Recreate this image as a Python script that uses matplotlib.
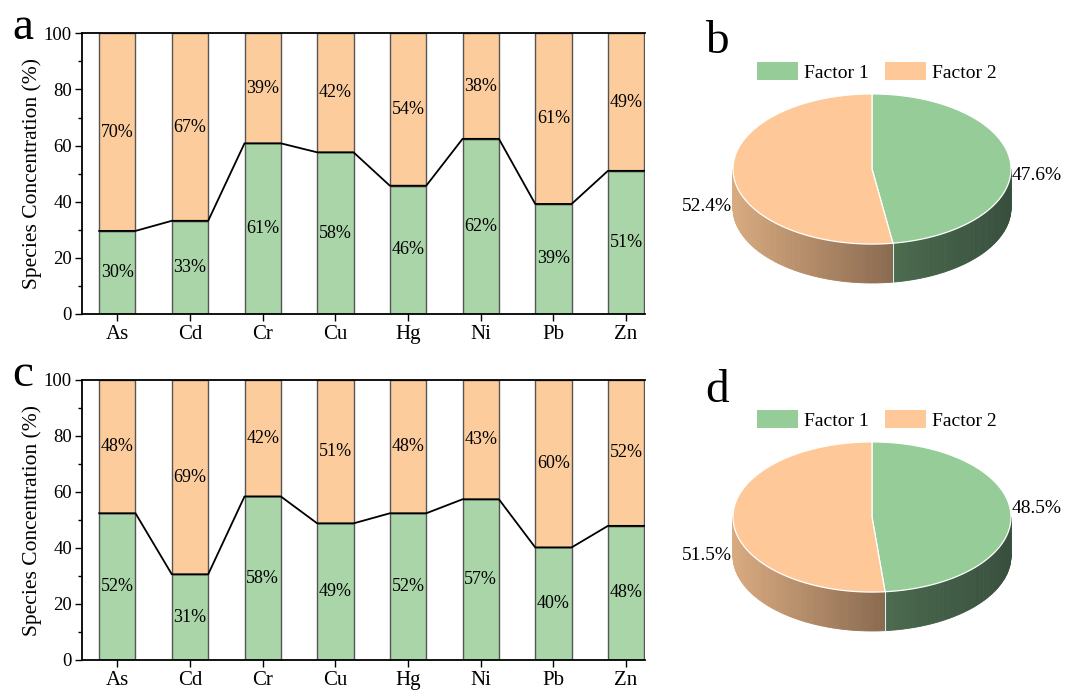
import numpy as np
import matplotlib

matplotlib.use("Agg")
import matplotlib.pyplot as plt
from matplotlib.patches import Patch, Polygon
from matplotlib.ticker import MultipleLocator

plt.rcParams["font.family"] = "serif"
plt.rcParams["font.serif"] = ["Liberation Serif", "DejaVu Serif"]

# ── data ──
elements = ["As", "Cd", "Cr", "Cu", "Hg", "Ni", "Pb", "Zn"]
factor1_a = np.array([29.6, 33.2, 60.8, 57.6, 45.7, 62.4, 39.2, 51.0])
factor1_c = np.array([52.4, 30.6, 58.4, 48.8, 52.4, 57.4, 40.2, 47.9])
pie_b = [47.6, 52.4]   # Factor 1, Factor 2
pie_d = [48.5, 51.5]
legend_labels = ["Factor 1", "Factor 2"]

BAR_GREEN = "#a9d5a9"
BAR_ORANGE = "#fdcc9d"
PIE_GREEN = "#95cc98"
PIE_ORANGE = "#fec898"
EDGE = "#555555"

W, H = 1065, 690
fig = plt.figure(figsize=(W / 100, H / 100), dpi=100)


def px_box(x0, y0, x1, y1):
    """pixel box (top-left origin) → figure fraction [l, b, w, h]"""
    return [x0 / W, 1 - y1 / H, (x1 - x0) / W, (y1 - y0) / H]


def draw_bars(ax, f1):
    x = np.arange(len(elements))
    f2 = 100 - f1
    ax.bar(x, f1, width=0.5, color=BAR_GREEN, edgecolor=EDGE, linewidth=1, zorder=2)
    ax.bar(x, f2, bottom=f1, width=0.5, color=BAR_ORANGE, edgecolor=EDGE,
           linewidth=1, zorder=2)
    # 막대 위 경계선 연결
    lx = np.column_stack([x - 0.25, x + 0.25]).ravel()
    ly = np.repeat(f1, 2)
    ax.plot(lx, ly, color="black", linewidth=1.3, zorder=3)
    for xi, a, b in zip(x, f1, f2):
        ax.text(xi, a / 2, f"{a:.0f}%", ha="center", va="center", fontsize=13, zorder=4)
        ax.text(xi, a + b / 2, f"{b:.0f}%", ha="center", va="center", fontsize=13, zorder=4)
    ax.set_xlim(-0.49, 7.26)
    ax.set_ylim(0, 100)
    ax.set_xticks(x)
    ax.set_xticklabels(elements, fontsize=15)
    ax.yaxis.set_major_locator(MultipleLocator(20))
    ax.yaxis.set_minor_locator(MultipleLocator(10))
    ax.tick_params(axis="y", labelsize=13.5, direction="out", length=5, width=1, pad=2)
    ax.tick_params(axis="y", which="minor", direction="out", length=3, width=1)
    ax.tick_params(axis="x", direction="out", length=5, width=1, pad=3)
    ax.set_ylabel("Species Concentration (%)", fontsize=15.5, labelpad=1)
    ax.spines["right"].set_visible(False)
    for s in ("left", "bottom", "top"):
        ax.spines[s].set_linewidth(1.3)


def lerp(c0, c1, t):
    c0 = np.array(matplotlib.colors.to_rgb(c0))
    c1 = np.array(matplotlib.colors.to_rgb(c1))
    return tuple(c0 + (c1 - c0) * t)


def draw_pie(ax, vals, lab_y):
    ry, depth = 0.54, 0.28
    p1 = vals[0] / 100
    t_split = 90 + 360 * (1 - p1)   # factor 2: 90→t_split, factor 1: t_split→450

    def pt(t):
        r = np.radians(t)
        return np.cos(r), ry * np.sin(r)

    # 옆면 (gradient strips)
    x_split = np.cos(np.radians(t_split))
    for t0, t1, c_from, c_to, xa, xb in [
        (180, t_split, "#d9ab80", "#8a6a50", -1.0, x_split),
        (t_split, 360, "#4b6b4e", "#384f3e", x_split, 1.0),
    ]:
        ts = np.linspace(t0, t1, 80)
        for a0, a1 in zip(ts[:-1], ts[1:]):
            x0, y0 = pt(a0)
            x1, y1 = pt(a1)
            frac = ((x0 + x1) / 2 - xa) / (xb - xa)
            col = lerp(c_from, c_to, np.clip(frac, 0, 1))
            ax.add_patch(Polygon([(x0, y0), (x1, y1), (x1, y1 - depth), (x0, y0 - depth)],
                                 closed=True, facecolor=col, edgecolor=col,
                                 linewidth=0.6, zorder=1))
    xs, ys = pt(t_split)
    ax.plot([xs, xs], [ys, ys - depth], color="#e8e8e8", linewidth=0.8, zorder=2)

    # 윗면
    for t0, t1, col in [(t_split, 450, PIE_GREEN), (90, t_split, PIE_ORANGE)]:
        ts = np.linspace(t0, t1, 200)
        pts = [(0, 0)] + [pt(t) for t in ts]
        ax.add_patch(Polygon(pts, closed=True, facecolor=col, edgecolor="white",
                             linewidth=0.9, zorder=3))

    ax.text(1.005, lab_y[0], f"{vals[0]}%", ha="left", va="center", fontsize=14)
    ax.text(-1.01, lab_y[1], f"{vals[1]}%", ha="right", va="center", fontsize=14)

    handles = [Patch(facecolor=PIE_GREEN), Patch(facecolor=PIE_ORANGE)]
    return handles


# ── bar panels ──
ax_a = fig.add_axes(px_box(81.7, 33.3, 645, 314))
draw_bars(ax_a, factor1_a)
ax_c = fig.add_axes(px_box(81.7, 380, 645, 660))
draw_bars(ax_c, factor1_c)

# ── pie panels ──
R = 139.0
for (cy, vals, lab_y, top, bot) in [
    (169, pie_b, (-0.05, -0.27), 40, 300),
    (517, pie_d, (0.06, -0.28), 388, 648),
]:
    ax = fig.add_axes(px_box(680, top, 1065, bot))
    ax.set_xlim((680 - 872) / R, (1065 - 872) / R)
    ax.set_ylim((cy - bot) / R, (cy - top) / R)
    ax.axis("off")
    handles = draw_pie(ax, vals, lab_y)
    leg_y = cy - 97
    ax.legend(handles, legend_labels, loc="center", ncol=2, frameon=False,
              bbox_to_anchor=((877 - 680) / 385, (bot - leg_y) / (bot - top)),
              fontsize=14, handlelength=2.1, handleheight=1.05,
              handletextpad=0.35, columnspacing=0.8)

# ── panel letters ──
for x, y, s in [(12, 39, "a"), (705, 53, "b"), (12, 386, "c"), (705, 402, "d")]:
    fig.text(x / W, 1 - y / H, s, fontsize=34, va="baseline", ha="left")

fig.savefig("out.png", dpi=100)
